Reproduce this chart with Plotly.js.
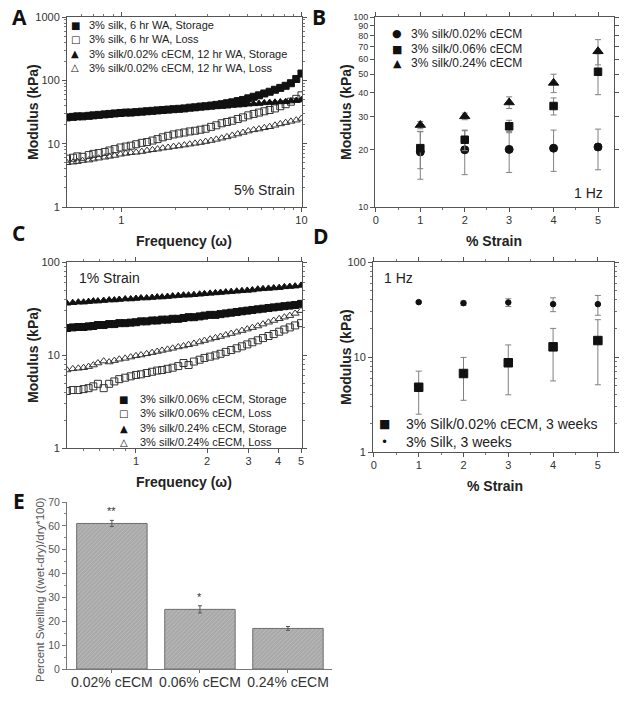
<!DOCTYPE html>
<html>
<head>
<meta charset="utf-8">
<script src="https://cdn.plot.ly/plotly-3.0.1.min.js"></script>
<style>html,body{margin:0;padding:0;background:#fff;}#chart{width:624px;height:702px;}</style>
</head>
<body>
<div id="chart"></div>
<script>
// ---------- Panel A data (5% strain, frequency sweep) ----------
const freqA = [0.50,0.54,0.57,0.61,0.66,0.70,0.75,0.81,0.86,0.92,0.99,1.06,1.13,1.21,1.30,1.39,1.49,1.59,1.70,1.82,1.95,2.09,2.24,2.40,2.57,2.75,2.94,3.15,3.37,3.61,3.86,4.13,4.43,4.74,5.07,5.43,5.81,6.22,6.66,7.13,7.63,8.17,8.74,9.36,10.0];
const silk6Storage = [26,26.5,27,27,27.5,28,28.5,29,29.5,30,30.5, 31,31,31.5,32,32.5,33,33.5,34,34.5,35, 35.5,36,37,37.5,38.5,39,40, 41,42,43.5,45,47,49,52, 55,58,62,66,71, 76,82,90,105,128];
const silk6Loss = [5.8,6.0,6.3,6.2,6.6,6.9,7.1,7.4,7.8,8.2,8.7, 9.0,9.3,9.8,10.3,10.6,11.2,11.8,12.6,13.3,14.0, 14.5,15.0,15.6,16.0,16.6,17.2,18.4, 19.5,21.0,22.0,23.0,24.5,26.0,28.0, 29.5,31.0,32.5,34.0,36.0, 39.0,42.0,46.0,51.0,58.0];
const ecm12Storage = [25.5,26,26,26.5,27,27,27.5,28,28.5,29,29.5, 30,30,30.5,31,31.5,32,32.5,33,33.5,34, 34.5,35,35.5,36,36.5,37,37.5, 38,38.5,39,40,40.5,41,42, 42.5,43,44,44.5,45, 45.5,46,47,48,49];
const ecm12Loss = [5.0,5.1,5.2,5.4,5.5,5.7,5.9,6.1,6.3,6.5,6.8, 7.0,7.2,7.3,7.5,7.8,8.0,8.2,8.5,8.7,9.0, 9.2,9.5,9.8,10.1,10.4,10.8,11.2, 11.7,12.2,12.8,13.5,14.2,15.0,15.8, 16.5,17.0,17.8,18.5,19.5, 20.5,21.5,22.5,23.5,25.0];
const labelsA = ['3% silk, 6 hr WA, Storage','3% silk, 6 hr WA, Loss','3% silk/0.02% cECM, 12 hr WA, Storage','3% silk/0.02% cECM, 12 hr WA, Loss'];

// ---------- Panel B data (1 Hz, strain sweep) ----------
const strainB = [1,2,3,4,5];
const b002 = [19.5,20.0,20.1,20.4,20.7];
const b002Err = [5.5,5.2,4.9,5.0,5.0];
const b006 = [20.4,22.6,26.6,34.0,51.5];
const b006Err = [4.5,2.8,2.0,3.5,12.5];
const b024 = [27.0,30.0,35.5,45.0,66.0];
const b024Err = [1.2,1.2,2.5,5.0,10.0];
const labelsB = ['3% silk/0.02% cECM','3% silk/0.06% cECM','3% silk/0.24% cECM'];
const ticksB = [10,20,30,40,50,60,70,80,90,100];

// ---------- Panel C data (1% strain, frequency sweep) ----------
const freqC = [0.51,0.54,0.57,0.60,0.63,0.66,0.69,0.73,0.77,0.81,0.85,0.90,0.95,1.00,1.05,1.11,1.17,1.23,1.29,1.36,1.43,1.51,1.59,1.67,1.76,1.86,1.95,2.06,2.17,2.28,2.40,2.53,2.67,2.81,2.96,3.11,3.28,3.45,3.64,3.83,4.04,4.25,4.48,4.72,5.00];
const c006Storage = [19.5,19.8,20,20,20.3,20.5,21,21,21.5,21.5,22,22,22.3,22.5, 23,23,23.5,23.5,24,24,24.5,24.5,25,25.5,25.5,26,26.5, 27,27,27.5,28,28.5,29,29.5,30,30.5, 31,31.5,32,32.5,33, 33.5,34,34.5,35.5];
const c006Loss = [4.1,4.2,4.2,4.3,4.4,4.6,4.9,4.4,4.9,5.2,5.5,5.7,5.9,6.1, 6.2,6.4,6.6,6.8,6.9,7.1,7.3,7.6,8.2,7.8,8.5,8.9,9.3, 9.6,9.9,10.3,10.8,11.3,11.8,12.4,13.0,13.7, 14.4,15.2,16.0,16.8,17.8, 18.8,19.8,20.8,22.0];
const c024Storage = [36,36.5,37,37,37.5,38,38,38.5,39,39,39.5,40,40,40.5, 41,41,41.5,42,42,42.5,43,43.5,44,44,44.5,45,45.5, 46,46.5,47,47.5,48,48.5,49,49.5,50, 51,51.5,52,52.5,53, 54,54.5,55,56];
const c024Loss = [6.9,7.1,7.2,7.3,7.5,7.8,8.2,8.6,8.4,8.7,9.0,9.2,9.5,9.8, 10.0,10.3,10.6,10.9,11.2,11.5,11.8,12.2,12.5,12.9,13.3,13.8,14.3, 14.8,15.3,15.8,16.4,17.0,17.6,18.3,19.0,19.7, 20.5,21.5,22.5,23.5,24.5, 25.5,26.5,28.0,30.0];
const labelsC = ['3% silk/0.06% cECM, Storage','3% silk/0.06% cECM, Loss','3% silk/0.24% cECM, Storage','3% silk/0.24% cECM, Loss'];

// ---------- Panel D data (1 Hz, 3 weeks) ----------
const strainD = [1,2,3,4,5];
const dEcm = [4.8,6.7,8.7,12.8,14.9];
const dEcmErr = [2.3,3.2,4.7,7.2,9.8];
const dSilk = [37.8,36.9,37.5,36.0,36.0];
const dSilkErr = [1.0,2.0,3.5,6.0,8.5];
const labelsD = ['3% Silk/0.02% cECM, 3 weeks','3% Silk, 3 weeks'];

// ---------- Panel E data (swelling) ----------
const catsE = ['0.02% cECM','0.06% cECM','0.24% cECM'];
const swelling = [61,25,17];
const swellingErr = [1.3,1.5,0.8];
const signif = ['**','*',''];

// ---------- helpers ----------
const F = 'Liberation Sans, Arial, sans-serif';
const W = 624, H = 702;
const BLK = '#111';
function sc(x, y, xa, ya, symbol, size, name, extra) {
  const open = symbol.indexOf('open') >= 0;
  return Object.assign({
    type:'scatter', mode:'markers', x:x, y:y, xaxis:xa, yaxis:ya, name:name, showlegend:false,
    marker:{symbol:symbol, size:size, color:open ? '#333' : BLK, line:{width:1, color:open ? '#333' : BLK}}
  }, extra || {});
}
function eb(arr){ return {type:'data', array:arr, visible:true, color:'#808080', thickness:1, width:3}; }

const traces = [
  sc(freqA, silk6Storage, 'x','y','square',7, labelsA[0]),
  sc(freqA, silk6Loss, 'x','y','square-open',7, labelsA[1]),
  sc(freqA, ecm12Storage, 'x','y','triangle-up',7, labelsA[2]),
  sc(freqA, ecm12Loss, 'x','y','triangle-up-open',7, labelsA[3]),

  sc(strainB, b002, 'x2','y2','circle',8, labelsB[0], {error_y:eb(b002Err)}),
  sc(strainB, b006, 'x2','y2','square',7.5, labelsB[1], {error_y:eb(b006Err)}),
  sc(strainB, b024, 'x2','y2','triangle-up',9, labelsB[2], {error_y:eb(b024Err)}),

  sc(freqC, c006Storage, 'x3','y3','square',7, labelsC[0]),
  sc(freqC, c006Loss, 'x3','y3','square-open',7, labelsC[1]),
  sc(freqC, c024Storage, 'x3','y3','triangle-up',7, labelsC[2]),
  sc(freqC, c024Loss, 'x3','y3','triangle-up-open',7, labelsC[3]),

  sc(strainD, dEcm, 'x4','y4','square',8.5, labelsD[0], {error_y:eb(dEcmErr)}),
  sc(strainD, dSilk, 'x4','y4','circle',5.5, labelsD[1], {error_y:eb(dSilkErr)}),

  {type:'bar', x:catsE, y:swelling, xaxis:'x5', yaxis:'y5', showlegend:false, width:0.8,
   marker:{color:'#ababab', line:{color:'#6e6e6e', width:1},
           pattern:{shape:'/', fgcolor:'#c4c4c4', bgcolor:'#a9a9a9', size:3, solidity:0.25}},
   error_y:{type:'data', array:swellingErr, visible:true, color:'#555', thickness:1, width:2}}
];

function dom(a, b, total, flip){ return flip ? [1 - b/total, 1 - a/total] : [a/total, b/total]; }
const axBase = {showline:true, linecolor:'#555', linewidth:1, mirror:'ticks', ticks:'outside', ticklen:4,
  tickcolor:'#555', tickfont:{size:11, color:'#333', family:F}, showgrid:false, zeroline:false, fixedrange:true};
function ax(o){ return Object.assign({}, axBase, o); }
const minorLog = {ticks:'outside', ticklen:2, tickcolor:'#777', tickvals:[0.6,0.7,0.8,0.9,2,3,4,5,6,7,8,9,20,30,40,50,60,70,80,90,200,300,400,500,600,700,800,900]};

const layout = {
  width:W, height:H, margin:{l:0,r:0,t:0,b:0}, paper_bgcolor:'#fff', plot_bgcolor:'#fff',
  font:{family:F, color:'#222'}, showlegend:false,
  xaxis: ax({type:'log', range:[Math.log10(0.5), 1.003], domain:dom(67,302,W), anchor:'y', tickvals:[1,10], ticktext:['1','10'], minor:minorLog, ticklabelstandoff:-1}),
  yaxis: ax({type:'log', range:[0,3], domain:dom(17,207,H,true), anchor:'x', tickvals:[1,10,100,1000], ticktext:['1','10','100','1000'], minor:minorLog}),
  xaxis2: ax({range:[-0.02,5.36], domain:dom(375,614,W), anchor:'y2', tickvals:[0,1,2,3,4,5], minor:{ticks:'outside', ticklen:2, tickcolor:'#777', dtick:0.5}, ticklabelstandoff:-1}),
  yaxis2: ax({type:'log', range:[1,2], domain:dom(17,207,H,true), anchor:'x2', tickvals:ticksB, ticktext:ticksB.map(String), tickfont:{size:9, color:'#333', family:F}}),
  xaxis3: ax({type:'log', range:[-0.292,0.703], domain:dom(67,302,W), anchor:'y3', tickvals:[1,2,3,4,5], ticktext:['1','2','3','4','5'], minor:minorLog, ticklabelstandoff:-1}),
  yaxis3: ax({type:'log', range:[0,2], domain:dom(262,448,H,true), anchor:'x3', tickvals:[1,10,100], ticktext:['1','10','100'], minor:minorLog}),
  xaxis4: ax({range:[-0.02,5.36], domain:dom(373,614,W), anchor:'y4', tickvals:[0,1,2,3,4,5], minor:{ticks:'outside', ticklen:2, tickcolor:'#777', dtick:0.5}, ticklabelstandoff:-1}),
  yaxis4: ax({type:'log', range:[0,2], domain:dom(262,452,H,true), anchor:'x4', tickvals:[1,10,100], ticktext:['1','10','100'], minor:minorLog}),
  xaxis5: ax({type:'category', range:[-0.51,2.5], domain:dom(67,332,W), anchor:'y5', mirror:false, ticklen:3, tickfont:{size:14, color:'#333', family:F}, linecolor:'#777', tickcolor:'#777', ticklabelstandoff:-3}),
  yaxis5: ax({range:[0,70], domain:dom(502,669,H,true), anchor:'x5', mirror:false, dtick:10, tickfont:{size:10.5, color:'#555', family:F}, linecolor:'#777', tickcolor:'#777', minor:{ticks:'outside', ticklen:2, tickcolor:'#888', dtick:5}}),
  annotations:[]
};

function A(px, py, text, o){
  layout.annotations.push(Object.assign({xref:'paper', yref:'paper', x:px/W, y:1-py/H, text:text, showarrow:false,
    xanchor:'center', yanchor:'middle', font:{family:F, size:11, color:'#222'}}, o||{}));
}
// panel letters
const LF = {family:'Open Sans, Liberation Sans, sans-serif', size:21, color:'#111'};
A(19,17,'<b>A</b>',{font:LF}); A(319,17,'<b>B</b>',{font:LF}); A(18,233,'<b>C</b>',{font:LF}); A(321,236,'<b>D</b>',{font:LF}); A(19,501,'<b>E</b>',{font:LF});
// axis titles
const TF = {family:F, size:14, color:'#222'};
A(33,112,'<b>Modulus (kPa)</b>',{textangle:-90, font:TF});
A(346,112,'<b>Modulus (kPa)</b>',{textangle:-90, font:TF});
A(33,355,'<b>Modulus (kPa)</b>',{textangle:-90, font:TF});
A(346,357,'<b>Modulus (kPa)</b>',{textangle:-90, font:TF});
A(184,241,'<b>Frequency (ω)</b>',{font:TF});
A(494,241,'<b>% Strain</b>',{font:TF});
A(184,482,'<b>Frequency (ω)</b>',{font:TF});
A(495,486,'<b>% Strain</b>',{font:TF});
A(40,590,'Percent Swelling ((wet-dry)/dry*100)',{textangle:-90, font:{family:F, size:11.5, color:'#555'}});
// in-plot labels
const IF = {family:F, size:14, color:'#222'};
A(297,190,'5% Strain',{xanchor:'right', font:IF});
A(605,193,'1 Hz',{xanchor:'right', font:IF});
A(77,278,'1% Strain',{xanchor:'left', font:IF});
A(382,278,'1 Hz',{xanchor:'left', font:IF});
// legends (symbol + label)
function legend(sx, tx, rows, syms, labels, fs, ss){
  rows.forEach((ry,i)=>{
    A(sx, ry, syms[i], {font:{family:'DejaVu Sans, sans-serif', size:ss, color:'#111'}});
    A(tx, ry, labels[i], {xanchor:'left', font:{family:F, size:fs, color:'#222'}});
  });
}
legend(75, 87, [25,39,54,68], ['■','□','▲','△'], labelsA, 11, 10);
legend(397, 409, [34,49,63], ['●','■','▲'], labelsB, 12, 11);
legend(124, 138, [399,413,428,442], ['■','□','▲','△'], labelsC, 11, 10);
legend(384, 404, [424,442], ['■','•'], labelsD, 14, 12);
// significance marks on bars
catsE.forEach((c,i)=>{ if(signif[i]) layout.annotations.push({xref:'x5', yref:'y5', x:c, y:swelling[i]+swellingErr[i], text:signif[i],
  showarrow:false, yanchor:'bottom', yshift:1, font:{family:F, size:11, color:'#333'}}); });

Plotly.newPlot('chart', traces, layout, {staticPlot:true, displayModeBar:false});
</script>
</body>
</html>
